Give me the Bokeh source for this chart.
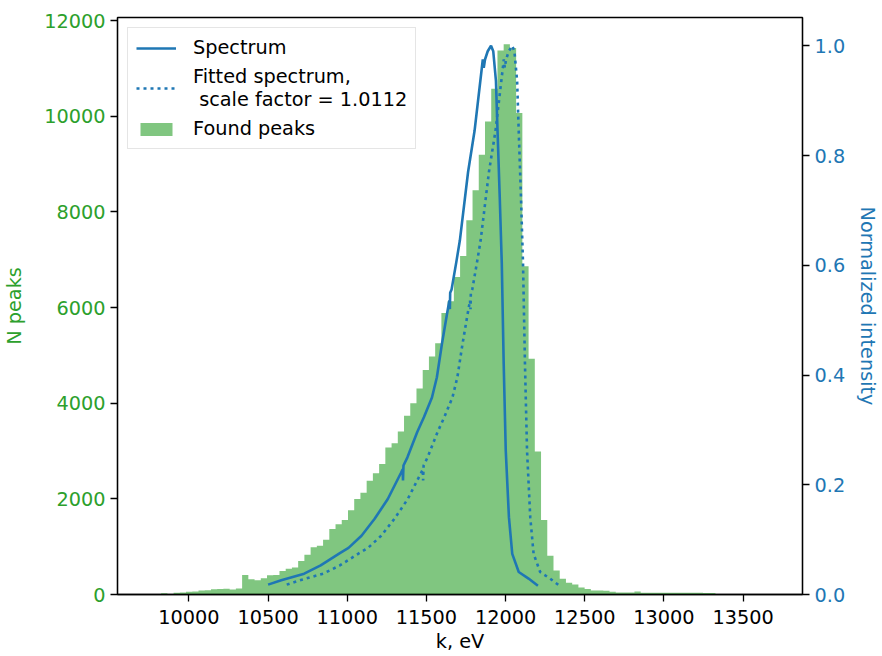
import numpy as np
from bokeh.plotting import figure
from bokeh.models import (Range1d, LinearAxis, FixedTicker, NumeralTickFormatter,
                          Legend, LegendItem)
from bokeh.embed import file_html
from bokeh.resources import INLINE

# ---------------- data ----------------
HIST_START = 9746.0
HIST_END = 13679.0
peak_counts = [0, 0, 25, 10, 35, 40, 60, 65, 85, 90,
               110, 115, 118, 104, 125, 410, 320, 300, 340, 405,
               410, 490, 540, 565, 700, 830, 990, 1020, 1145, 1370,
               1470, 1560, 1760, 1995, 2125, 2380, 2535, 2730, 3075, 3160,
               3410, 3735, 4000, 4305, 4695, 4975, 5255, 5885, 6130, 6640,
               7075, 7825, 8450, 9195, 9890, 10575, 11375, 11505, 11425, 10065,
               6865, 4930, 2990, 1560, 810, 500, 327, 245, 209, 145,
               117, 85, 83, 80, 56, 42, 40, 42, 63, 38,
               37, 37, 36, 36, 35, 35, 35, 34, 34, 33, 33,
               0, 0, 0, 0, 0, 0, 0, 0, 0]

spec_k = [10500, 10583, 10728, 10832, 10956, 11008, 11090, 11173, 11256, 11338,
          11350, 11352, 11355, 11380, 11442, 11484, 11535, 11566, 11597, 11628,
          11645, 11648, 11650, 11659, 11690, 11711, 11763, 11804, 11856, 11862,
          11870, 11887, 11908, 11922, 11939, 11949, 11963, 11976, 11988, 12001,
          12021, 12042, 12083, 12145, 12204]
spec_int = [0.018, 0.026, 0.038, 0.053, 0.076, 0.085, 0.107, 0.138, 0.174, 0.221,
            0.228, 0.208, 0.235, 0.250, 0.296, 0.323, 0.359, 0.396, 0.455, 0.508,
            0.536, 0.520, 0.550, 0.556, 0.608, 0.645, 0.770, 0.845, 0.975, 0.960,
            0.975, 0.990, 1.000, 0.990, 0.936, 0.845, 0.724, 0.602, 0.420, 0.262,
            0.141, 0.074, 0.041, 0.029, 0.016]

fit_k = [10617.6, 10701.5, 10848.2, 10953.3, 11078.7, 11131.3, 11214.2, 11298.1, 11382.1, 11465.0,
         11477.1, 11479.1, 11482.2, 11507.5, 11570.2, 11612.6, 11664.2, 11695.5, 11726.9, 11758.2,
         11775.4, 11778.5, 11780.5, 11789.6, 11820.9, 11842.2, 11894.7, 11936.2, 11988.8, 11994.9,
         12002.9, 12020.1, 12041.4, 12055.5, 12072.7, 12082.8, 12097.0, 12110.1, 12122.3, 12135.4,
         12155.6, 12176.9, 12218.3, 12281.0, 12340.7]
fit_int = spec_int

X_TICKS = [10000, 10500, 11000, 11500, 12000, 12500, 13000, 13500]
Y_LEFT_TICKS = [0, 2000, 4000, 6000, 8000, 10000, 12000]
Y_RIGHT_TICKS = [0.0, 0.2, 0.4, 0.6, 0.8, 1.0]

# ---------------- styling ----------------
FONT = "DejaVu Sans"
FS = "19.3px"
GREEN = "#2ca02c"
BLUE = "#1f77b4"

edges = np.linspace(HIST_START, HIST_END, len(peak_counts) + 1)
step_tops = list(peak_counts) + [peak_counts[-1]]

p = figure(width=882, height=656, output_backend="svg", toolbar_location=None,
           x_range=Range1d(9549, 13875), y_range=Range1d(0, 12063),
           min_border_left=115, min_border_right=70, min_border_top=17, min_border_bottom=62)
p.extra_y_ranges = {"norm": Range1d(0, 1.0515)}

p.xgrid.visible = False
p.ygrid.visible = False
p.outline_line_color = "black"
p.outline_line_width = 1.3
p.background_fill_color = "white"
p.border_fill_color = "white"

r_hist = p.varea_step(x=edges, y1=0, y2=step_tops, step_mode="after",
                      fill_color=GREEN, fill_alpha=0.6)
r_spec = p.line(spec_k, spec_int, y_range_name="norm", line_color=BLUE, line_width=2.6)
r_fit = p.line(fit_k, fit_int, y_range_name="norm", line_color=BLUE, line_width=2.6,
               line_dash="3 4")

def style_axis(ax, label, color):
    ax.axis_label = label
    ax.axis_label_text_font = FONT
    ax.axis_label_text_font_size = FS
    ax.axis_label_text_font_style = "normal"
    ax.axis_label_text_color = color
    ax.major_label_text_font = FONT
    ax.major_label_text_font_size = FS
    ax.major_label_text_color = color
    ax.minor_tick_line_color = None
    ax.major_tick_out = 7
    ax.major_tick_in = 0
    ax.major_tick_line_width = 1.3
    ax.major_tick_line_color = "black"
    ax.axis_line_color = "black"
    ax.axis_line_width = 1.3
    ax.major_label_standoff = 5

xax = p.xaxis[0]
xax.ticker = FixedTicker(ticks=X_TICKS)
style_axis(xax, "k, eV", "black")
xax.major_label_standoff = 8
xax.axis_label_standoff = 3

yax = p.yaxis[0]
yax.ticker = FixedTicker(ticks=Y_LEFT_TICKS)
style_axis(yax, "N peaks", GREEN)
yax.axis_label_standoff = 15

rax = LinearAxis(y_range_name="norm", ticker=FixedTicker(ticks=Y_RIGHT_TICKS),
                 formatter=NumeralTickFormatter(format="0.0"))
style_axis(rax, "Normalized intensity", BLUE)
rax.axis_label_standoff = 8
p.add_layout(rax, "right")

legend = Legend(items=[
    LegendItem(label="Spectrum", renderers=[r_spec]),
    LegendItem(label="Fitted spectrum,\n scale factor = 1.0112", renderers=[r_fit]),
    LegendItem(label="Found peaks", renderers=[r_hist]),
], location="top_left")
legend.label_text_font = FONT
legend.label_text_font_size = FS
legend.label_text_color = "black"
legend.glyph_width = 40
legend.glyph_height = 16
legend.label_standoff = 17
legend.padding = 8
legend.spacing = 6
legend.margin = 10
legend.border_line_color = "#cccccc"
legend.border_line_width = 1.3
legend.background_fill_alpha = 0.8
p.add_layout(legend)

open("out.html", "w").write(file_html(p, INLINE))
